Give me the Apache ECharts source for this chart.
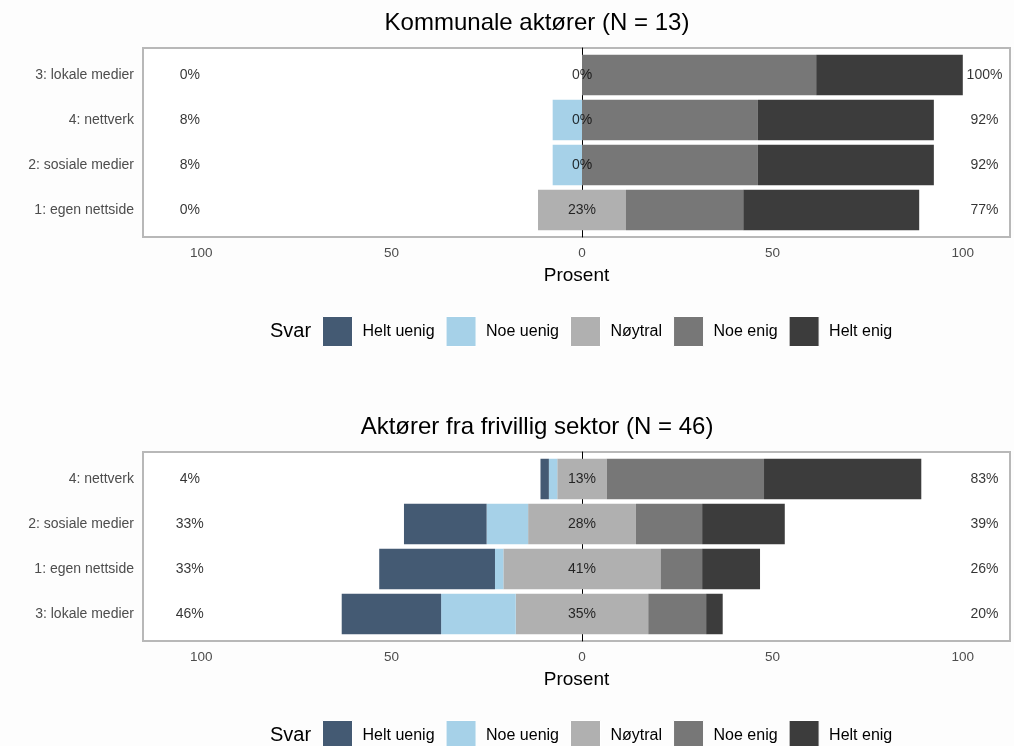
<!DOCTYPE html>
<html>
<head>
<meta charset="utf-8">
<script src="https://cdn.jsdelivr.net/npm/echarts@6/dist/echarts.min.js"></script>
<style>
  html, body { margin: 0; padding: 0; background: #fdfdfd; }
  #chart { width: 1014px; height: 746px; }
</style>
</head>
<body>
<div id="chart"></div>
<script>
// Svarkategorier
const svarNames = ['Helt uenig', 'Noe uenig', 'Nøytral', 'Noe enig', 'Helt enig']
const svarColors = ['#445a73', '#a6d1e8', '#b0b0b0', '#777777', '#3c3c3c']

// Kommunale aktører (N = 13), prosent
const categories1 = ['3: lokale medier', '4: nettverk', '2: sosiale medier', '1: egen nettside']
const heltUenig1 = [0, 0, 0, 0]
const noeUenig1 = [0, 7.7, 7.7, 0]
const noytral1 = [0, 0, 0, 23.1]
const noeEnig1 = [61.5, 46.2, 46.2, 30.8]
const heltEnig1 = [38.5, 46.2, 46.2, 46.2]

// Aktører fra frivillig sektor (N = 46), prosent
const categories2 = ['4: nettverk', '2: sosiale medier', '1: egen nettside', '3: lokale medier']
const heltUenig2 = [2.2, 21.7, 30.4, 26.1]
const noeUenig2 = [2.2, 10.9, 2.2, 19.6]
const noytral2 = [13.0, 28.3, 41.3, 34.8]
const noeEnig2 = [41.3, 17.4, 10.9, 15.2]
const heltEnig2 = [41.3, 21.7, 15.2, 4.35]

const xTicks = [-100, -50, 0, 50, 100]

const FONT = "'Liberation Sans', Arial, sans-serif"
// 3.808 px per prosentpoeng, null på x = 582
const X_MIN = -439 / 3.808
const X_MAX = 428 / 3.808
const LEFT_LABEL_X = -103
const RIGHT_LABEL_X = 105.7

const pct = (v) => Math.round(v + 1e-9) + '%'

const panels = [
  { title: 'Kommunale aktører (N = 13)', cats: categories1, hu: heltUenig1, nu: noeUenig1, ny: noytral1, ne: noeEnig1, he: heltEnig1, top: 48 },
  { title: 'Aktører fra frivillig sektor (N = 46)', cats: categories2, hu: heltUenig2, nu: noeUenig2, ny: noytral2, ne: noeEnig2, he: heltEnig2, top: 452 }
]

const grid = []
const xAxis = []
const yAxis = []
const series = []
const title = []

panels.forEach((p, i) => {
  const frameIdx = i * 2
  const dataIdx = i * 2 + 1
  // ramme (kant + x-etiketter + nullinje)
  grid.push({
    left: 143, right: 4, top: p.top, height: 189,
    show: true, backgroundColor: '#ffffff', borderColor: '#b8b8b8', borderWidth: 2
  })
  // stolper
  grid.push({ left: 143, right: 4, top: p.top + 4.5, height: 180, show: false })

  xAxis.push({
    gridIndex: frameIdx, type: 'value', min: X_MIN, max: X_MAX,
    name: 'Prosent', nameLocation: 'middle', nameGap: 29,
    nameTextStyle: { fontSize: 19, color: '#000', fontFamily: FONT },
    axisLine: { show: false }, axisTick: { show: false }, splitLine: { show: false },
    axisLabel: {
      customValues: xTicks, margin: 9, fontSize: 13.5, color: '#4d4d4d', fontFamily: FONT,
      formatter: (v) => String(Math.round(Math.abs(v)))
    }
  })
  xAxis.push({ gridIndex: dataIdx, type: 'value', min: X_MIN, max: X_MAX, show: false })

  // y-aksen i rammen ligger på x = 0 og gir nullinjen
  yAxis.push({
    gridIndex: frameIdx, type: 'value', min: 0, max: 1, z: 1,
    axisLine: { show: true, onZero: true, lineStyle: { color: '#000', width: 1 } },
    axisTick: { show: false }, axisLabel: { show: false }, splitLine: { show: false }
  })
  yAxis.push({
    gridIndex: dataIdx, type: 'category', data: p.cats, inverse: true,
    axisLine: { show: false }, axisTick: { show: false },
    axisLabel: { margin: 9, fontSize: 14, color: '#4d4d4d', fontFamily: FONT }
  })

  title.push({
    text: p.title, left: 537, top: p.top - 37, textAlign: 'center', padding: 0,
    textStyle: { fontSize: 24, fontWeight: 'normal', color: '#000', fontFamily: FONT }
  })

  const stack = 'likert' + i
  const bar = (name, color, data) => ({
    name, type: 'bar', stack, xAxisIndex: dataIdx, yAxisIndex: dataIdx,
    barCategoryGap: '10%', z: 3, silent: true,
    itemStyle: { color },
    data
  })
  series.push(bar('Nøytral', svarColors[2], p.ny.map((v) => -v / 2)))
  series.push(bar('Noe uenig', svarColors[1], p.nu.map((v) => -v)))
  series.push(bar('Helt uenig', svarColors[0], p.hu.map((v) => -v)))
  series.push(bar('Nøytral', svarColors[2], p.ny.map((v) => v / 2)))
  series.push(bar('Noe enig', svarColors[3], p.ne))
  series.push(bar('Helt enig', svarColors[4], p.he))

  // prosentetiketter
  const labelData = []
  p.cats.forEach((c, k) => {
    labelData.push([LEFT_LABEL_X, k, pct(p.hu[k] + p.nu[k])])
    labelData.push([0, k, pct(p.ny[k])])
    labelData.push([RIGHT_LABEL_X, k, pct(p.ne[k] + p.he[k])])
  })
  series.push({
    type: 'scatter', xAxisIndex: dataIdx, yAxisIndex: dataIdx, symbolSize: 0, z: 5, silent: true,
    label: {
      show: true, position: 'inside', formatter: (d) => d.value[2],
      fontSize: 14, color: '#000', fontFamily: FONT
    },
    data: labelData
  })
})

// "Svar"
title.push({ text: 'Svar', left: 270, top: 321, padding: 0, textStyle: { fontSize: 20, fontWeight: 'normal', color: '#000', fontFamily: FONT } })
title.push({ text: 'Svar', left: 270, top: 725, padding: 0, textStyle: { fontSize: 20, fontWeight: 'normal', color: '#000', fontFamily: FONT } })

const legendBase = {
  data: svarNames, left: 322, itemWidth: 30, itemHeight: 30, itemGap: 11, padding: 0,
  icon: 'rect', selectedMode: false,
  itemStyle: { borderColor: '#ffffff', borderWidth: 1 },
  textStyle: { fontSize: 16, color: '#000', fontFamily: FONT, padding: [0, 0, 0, 5] }
}

const chart = echarts.init(document.getElementById('chart'))
chart.setOption({
  backgroundColor: '#fdfdfd',
  animation: false,
  title,
  legend: [
    Object.assign({}, legendBase, { top: 316 }),
    Object.assign({}, legendBase, { top: 720 })
  ],
  grid,
  xAxis,
  yAxis,
  series
})
</script>
</body>
</html>
